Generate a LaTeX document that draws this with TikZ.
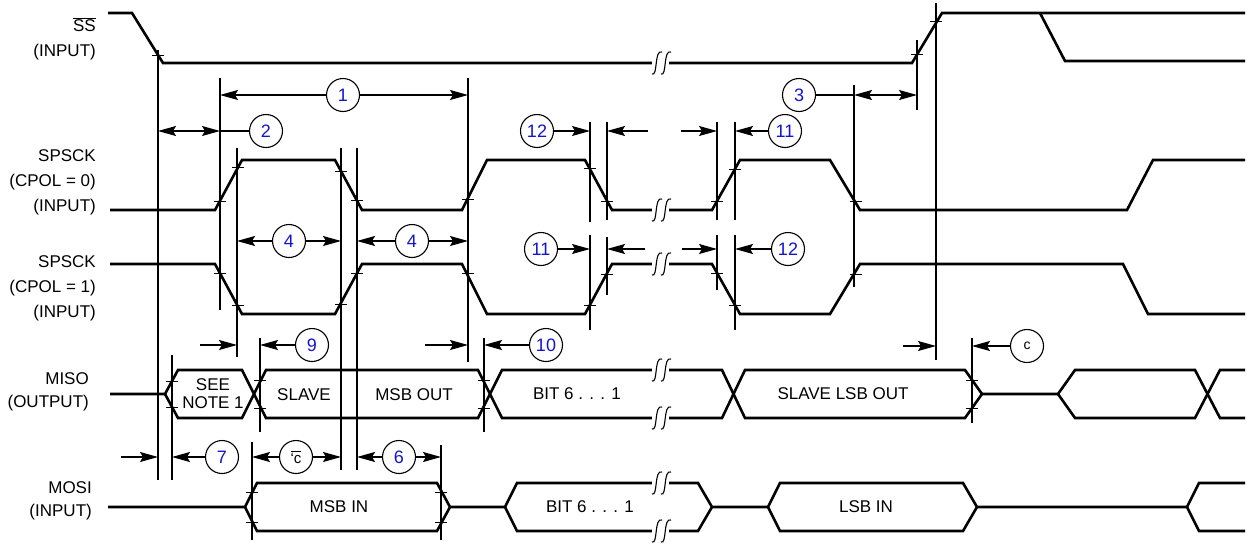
\documentclass[tikz,border=0pt]{standalone}
\usepackage{fontspec}
\setmainfont{Liberation Sans}
\usepackage{tikz}
\usepackage{xcolor}
\usetikzlibrary{arrows.meta, calc}
\definecolor{numblue}{RGB}{20,20,205}
\tikzstyle{signal} = [line width=2.6pt, line join=miter]
\tikzstyle{refline} = [line width=1.1pt]
\tikzstyle{tickmark} = [line width=1pt]
\tikzstyle{timing} = [circle, draw=black, line width=1.1pt, fill=white, minimum size=33pt, inner sep=0pt, text=numblue, font=\fontsize{18}{20}\selectfont]
\tikzstyle{sig} = [anchor=east, align=right, inner sep=0pt, font=\fontsize{17}{25}\selectfont]
\tikzstyle{bus} = [inner sep=0pt, align=center, font=\fontsize{17}{18}\selectfont]
\tikzstyle{arrow} = [line width=1.1pt, -{Stealth[length=18pt,width=10pt,inset=3pt]}]
\tikzstyle{dblarrow} = [line width=1.1pt, {Stealth[length=18pt,width=10pt,inset=3pt]}-{Stealth[length=18pt,width=10pt,inset=3pt]}]

\begin{document}
\begin{tikzpicture}[x=1pt, y=-1pt]
\useasboundingbox (0,0) rectangle (1248,544);

% Signal names
\node[sig] (lbl-ss) at (96,39) {$\overline{\hbox{SS}}$\\(INPUT)};
\node[sig] (lbl-cpol0) at (96,182) {SPSCK\\(CPOL = 0)\\(INPUT)};
\node[sig] (lbl-cpol1) at (96,288) {SPSCK\\(CPOL = 1)\\(INPUT)};
\node[sig, font=\fontsize{17}{23}\selectfont] (lbl-miso) at (89,392) {MISO\\(OUTPUT)};
\node[sig, font=\fontsize{17}{23}\selectfont] (lbl-mosi) at (92,501) {MOSI\\(INPUT)};

% Waveforms
\draw[signal] (108,13) -- (132,13) -- (163,63) -- (912,63) -- (942,13) -- (1245,13);
\draw[signal] (1040,13) -- (1065,61) -- (1245,61);

\draw[signal] (110,210) -- (215,210) -- (242,160) -- (335,160) -- (362,210) -- (462,210) -- (487,160) -- (585,160) -- (612,210) -- (712,210) -- (740,160) -- (830,160) -- (860,210) -- (1127,210) -- (1153,160) -- (1245,160);
\draw[signal] (110,264) -- (215,264) -- (242,314) -- (335,314) -- (362,264) -- (462,264) -- (487,314) -- (585,314) -- (612,264) -- (712,264) -- (740,314) -- (830,314) -- (860,264) -- (1123,264) -- (1148,314) -- (1245,314);

\draw[signal] (110,394) -- (165,394) -- (178,370) -- (242,370) -- (266,418) -- (478,418) -- (502,370) -- (722,370) -- (745,418) -- (965,418) -- (982,394) -- (1058,394) -- (1075,370) -- (1195,370) -- (1220,418) -- (1245,418);
\draw[signal] (165,394) -- (178,418) -- (242,418) -- (266,370) -- (478,370) -- (502,418) -- (722,418) -- (745,370) -- (965,370) -- (982,394);
\draw[signal] (1058,394) -- (1075,418) -- (1195,418) -- (1220,370) -- (1245,370);

\draw[signal] (108,507) -- (245,507) -- (257,483) -- (437,483) -- (450,507) -- (505,507) -- (517,483) -- (698,483) -- (712,507) -- (768,507) -- (780,483) -- (963,483) -- (977,507) -- (1187,507) -- (1199,483) -- (1245,483);
\draw[signal] (245,507) -- (257,531) -- (437,531) -- (450,507);
\draw[signal] (505,507) -- (517,531) -- (698,531) -- (712,507);
\draw[signal] (768,507) -- (780,531) -- (963,531) -- (977,507);
\draw[signal] (1187,507) -- (1199,531) -- (1245,531);

% Bus contents
\node[bus] (miso-note) at (213,394) {SEE\\NOTE 1};
\node[bus] (miso-slave) at (304,395) {SLAVE};
\node[bus] (miso-msb) at (414,395) {MSB OUT};
\node[bus] (miso-bits) at (577,394) {BIT 6 . . . 1};
\node[bus] (miso-lsb) at (843,394) {SLAVE LSB OUT};
\node[bus] (mosi-msb) at (339,507) {MSB IN};
\node[bus] (mosi-bits) at (590,507) {BIT 6 . . . 1};
\node[bus] (mosi-lsb) at (866,507) {LSB IN};

% Breaks
\foreach \y in {63,210,264,370,418,483,531} {
  \fill[white] (652,\y-5) rectangle (669,\y+5);
  \draw[refline] (652,\y+11) .. controls (658,\y+14) and (654,\y-14) .. (662,\y-11);
  \draw[refline] (661,\y+11) .. controls (667,\y+14) and (663,\y-14) .. (671,\y-11);
}

% Reference lines
\foreach \x/\ya/\yb in {158/50/480, 172/355/480, 220/78/310, 237/148/357, 252/442/540, 260/338/432, 341/148/470, 357/148/470, 441/445/540, 468/78/362, 484/338/432, 590/122/222, 590/235/330, 607/122/220, 607/237/295, 717/122/220, 717/235/290, 735/122/220, 735/235/330, 854/85/287, 917/40/110, 936/3/360, 972/338/423}
  \draw[refline] (\x,\ya) -- (\x,\yb);

% Ticks
\foreach \x/\y in {158/55, 917/54, 936/21, 220/201, 238/167, 341/171, 357/200, 468/199, 590/168, 607/201, 717/201, 735/169, 856/201, 220/273, 238/305, 341/304, 357/273, 468/273, 590/305, 607/274, 717/273, 735/305, 856/274, 172/381, 172/407, 260/380, 260/408, 484/380, 484/408, 972/380, 972/408, 252/492, 252/522, 441/492, 441/522}
  \draw[tickmark] (\x-6,\y) -- (\x+6,\y);

\coordinate (x-ss) at (158,0);
\coordinate (x-a) at (220,0);
\coordinate (x-b) at (237,0);
\coordinate (x-c) at (341,0);
\coordinate (x-d) at (357,0);
\coordinate (x-e) at (468,0);
\coordinate (x-f) at (590,0);
\coordinate (x-g) at (607,0);
\coordinate (x-h) at (717,0);
\coordinate (x-i) at (735,0);
\coordinate (x-j) at (854,0);
\coordinate (x-k) at (917,0);
\coordinate (x-l) at (936,0);
\coordinate (x-miso0) at (172,0);
\coordinate (x-miso1) at (260,0);
\coordinate (x-miso2) at (484,0);
\coordinate (x-miso3) at (972,0);
\coordinate (x-mosi0) at (252,0);
\coordinate (x-mosi1) at (441,0);

% Timing numbers
\node[timing] (num-1) at (343,95) {1};
\node[timing] (num-2) at (266,131) {2};
\node[timing] (num-3) at (799,95) {3};
\node[timing] (num-12a) at (537,131) {12};
\node[timing] (num-11a) at (785,131) {11};
\node[timing] (num-4a) at (289,241) {4};
\node[timing] (num-4b) at (412,241) {4};
\node[timing] (num-11b) at (541,249) {11};
\node[timing] (num-12b) at (788,249) {12};
\node[timing] (num-9) at (312,345) {9};
\node[timing] (num-10) at (546,345) {10};
\node[timing, text=black, font=\fontsize{14}{16}\selectfont] (num-c) at (1027,346) {c};
\node[timing] (num-7) at (222,457) {7};
\node[timing, text=black, font=\fontsize{15}{16}\selectfont] (num-tc) at (296,457) {$\overline{\hbox{\textquoteleft c}}$};
\node[timing] (num-6) at (399,457) {6};

% Arrows
\draw[arrow] (num-1) -- (num-1 -| x-a);
\draw[arrow] (num-1) -- (num-1 -| x-e);
\draw[dblarrow] (num-2 -| x-ss) -- (num-2 -| x-a);
\draw[refline] (num-2 -| x-a) -- (num-2);
\draw[refline] (num-3) -- (num-3 -| x-j);
\draw[dblarrow] (num-3 -| x-j) -- (num-3 -| x-k);

\draw[arrow] (num-12a) -- (num-12a -| x-f);
\draw[arrow] ($(num-12a -| x-g)+(41,0)$) -- (num-12a -| x-g);
\draw[arrow] ($(num-12a -| x-h)+(-36,0)$) -- (num-12a -| x-h);
\draw[arrow] (num-11a) -- (num-11a -| x-i);

\draw[arrow] (num-4a) -- (num-4a -| x-b);
\draw[arrow] (num-4a) -- (num-4a -| x-c);
\draw[arrow] (num-4b) -- (num-4b -| x-d);
\draw[arrow] (num-4b) -- (num-4b -| x-e);

\draw[arrow] (num-11b) -- (num-11b -| x-f);
\draw[arrow] ($(num-11b -| x-g)+(38,0)$) -- (num-11b -| x-g);
\draw[arrow] ($(num-11b -| x-h)+(-35,0)$) -- (num-11b -| x-h);
\draw[arrow] (num-12b) -- (num-12b -| x-i);

\draw[arrow] ($(num-9 -| x-b)+(-37,0)$) -- (num-9 -| x-b);
\draw[arrow] (num-9) -- (num-9 -| x-miso1);
\draw[arrow] ($(num-10 -| x-e)+(-43,0)$) -- (num-10 -| x-e);
\draw[arrow] (num-10) -- (num-10 -| x-miso2);
\draw[arrow] ($(num-c -| x-l)+(-33,0)$) -- (num-c -| x-l);
\draw[arrow] (num-c) -- (num-c -| x-miso3);

\draw[arrow] ($(num-7 -| x-ss)+(-37,0)$) -- (num-7 -| x-ss);
\draw[arrow] (num-7) -- (num-7 -| x-miso0);
\draw[arrow] (num-tc) -- (num-tc -| x-mosi0);
\draw[arrow] (num-tc) -- (num-tc -| x-c);
\draw[arrow] (num-6) -- (num-6 -| x-d);
\draw[arrow] (num-6) -- (num-6 -| x-mosi1);

\end{tikzpicture}
\end{document}
